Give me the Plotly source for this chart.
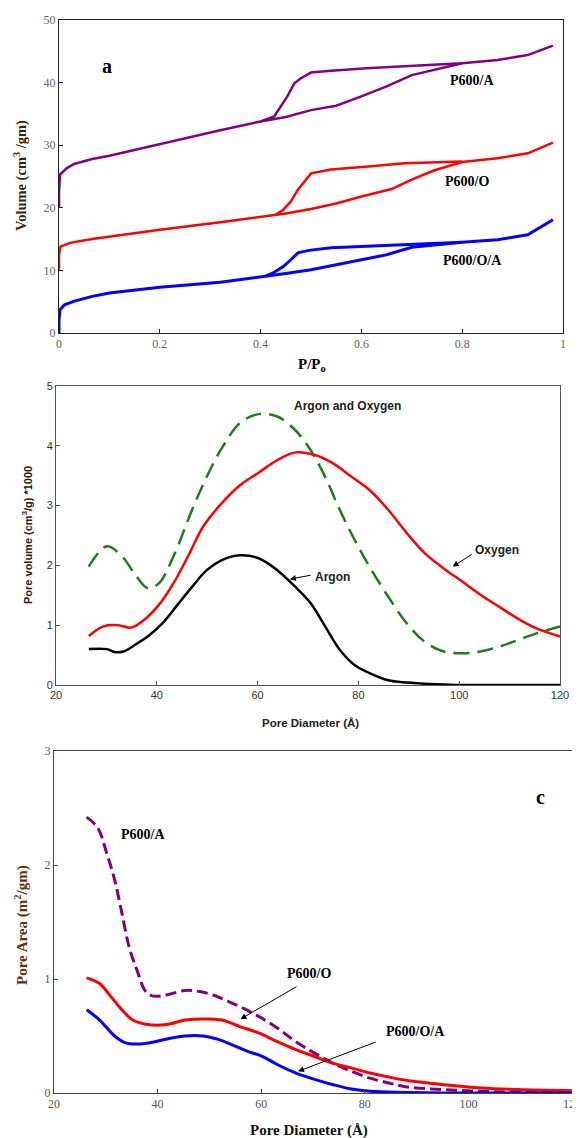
import plotly.graph_objects as go

# ---------------- Panel a: isotherms ----------------
A_ads_x = [0, 0, 0.002, 0.015, 0.03, 0.066, 0.10, 0.2, 0.32, 0.40, 0.45, 0.50, 0.55, 0.60, 0.65, 0.70, 0.76, 0.80, 0.87, 0.93, 0.98]
A_ads_y = [20, 22.5, 25.3, 26.3, 27.0, 27.8, 28.3, 30.2, 32.4, 33.8, 34.5, 35.6, 36.3, 37.8, 39.4, 41.2, 42.3, 43.1, 43.6, 44.4, 45.9]
A_des_x = [0.80, 0.69, 0.61, 0.54, 0.50, 0.48, 0.467, 0.453, 0.438, 0.427, 0.40]
A_des_y = [43.1, 42.7, 42.3, 41.9, 41.6, 40.7, 39.9, 37.8, 35.9, 34.6, 33.8]

O_ads_x = [0, 0, 0.003, 0.022, 0.066, 0.10, 0.2, 0.32, 0.40, 0.45, 0.50, 0.55, 0.60, 0.66, 0.70, 0.745, 0.80, 0.87, 0.93, 0.98]
O_ads_y = [10.1, 12.5, 13.8, 14.4, 15.0, 15.4, 16.5, 17.7, 18.6, 19.1, 19.8, 20.7, 21.8, 23.0, 24.5, 26.0, 27.3, 27.9, 28.7, 30.4]
O_des_x = [0.80, 0.686, 0.613, 0.54, 0.50, 0.49, 0.474, 0.46, 0.445, 0.43]
O_des_y = [27.4, 27.1, 26.6, 26.1, 25.5, 24.5, 22.9, 21.0, 19.7, 18.9]

OA_ads_x = [0, 0, 0.002, 0.011, 0.029, 0.066, 0.10, 0.2, 0.32, 0.40, 0.45, 0.50, 0.55, 0.60, 0.65, 0.70, 0.80, 0.87, 0.93, 0.98]
OA_ads_y = [0, 2.0, 3.7, 4.5, 5.05, 5.85, 6.4, 7.3, 8.1, 8.9, 9.5, 10.1, 10.9, 11.7, 12.5, 13.7, 14.5, 14.9, 15.7, 18.1]
OA_des_x = [0.80, 0.686, 0.613, 0.54, 0.496, 0.474, 0.46, 0.445, 0.427, 0.41]
OA_des_y = [14.5, 14.1, 13.8, 13.6, 13.2, 12.8, 11.7, 10.6, 9.7, 9.1]

# ---------------- Panel b: pore volume ----------------
b_green_x = [26.5, 30.1, 33.1, 36, 38.2, 40.4, 43.3, 47, 49.9, 52.9, 56.5, 60.2, 63.9, 67.5, 70.5, 73.4, 76.3, 79.3, 82.2, 85.9, 89.6, 93.2, 96.9, 100.6, 104.2, 107.9, 111.6, 115.2, 120]
b_green_y = [1.98, 2.32, 2.15, 1.81, 1.62, 1.70, 2.15, 2.93, 3.48, 3.96, 4.38, 4.53, 4.49, 4.26, 3.93, 3.48, 2.93, 2.42, 1.98, 1.48, 1.03, 0.72, 0.56, 0.53, 0.56, 0.64, 0.75, 0.86, 0.98]
b_red_x = [26.5, 29.4, 32.3, 34.9, 37.5, 40.4, 43.3, 46.3, 49.2, 52.9, 56.5, 60.2, 63.9, 67.5, 71.2, 74.9, 78.5, 82.2, 85.9, 89.6, 93.2, 96.9, 100.6, 104.2, 107.9, 111.6, 115.2, 120]
b_red_y = [0.82, 0.98, 1.0, 0.96, 1.09, 1.34, 1.70, 2.17, 2.65, 3.04, 3.34, 3.55, 3.76, 3.89, 3.85, 3.71, 3.49, 3.26, 2.93, 2.54, 2.20, 1.95, 1.73, 1.51, 1.31, 1.11, 0.95, 0.81]
b_black_x = [26.5, 30.1, 31.6, 33.4, 36, 38.2, 41.1, 44.1, 47, 49.9, 52.9, 56.5, 60.2, 63.9, 67.5, 70.5, 73.4, 76.3, 79.3, 82.2, 85.9, 89.6, 93.2, 96.9, 100, 110, 120]
b_black_y = [0.60, 0.60, 0.55, 0.56, 0.69, 0.81, 1.03, 1.34, 1.64, 1.92, 2.09, 2.17, 2.12, 1.92, 1.64, 1.37, 0.98, 0.59, 0.33, 0.20, 0.08, 0.04, 0.02, 0.01, 0.0, 0.0, 0.0]

# ---------------- Panel c: pore area ----------------
c_A_x = [26.3, 28.4, 30.2, 31.7, 33.1, 34.5, 36, 37.7, 39.2, 41.7, 45.3, 48.1, 51, 53.8, 56.7, 59.6, 63.1, 66.7, 70.3, 73.9, 77.4, 81, 84.6, 88.2, 95.3, 102.5, 109.6, 120]
c_A_y = [2.42, 2.33, 2.10, 1.87, 1.58, 1.28, 1.08, 0.89, 0.85, 0.86, 0.90, 0.89, 0.855, 0.80, 0.74, 0.67, 0.57, 0.45, 0.35, 0.26, 0.19, 0.13, 0.088, 0.053, 0.03, 0.015, 0.006, 0.0]
c_O_x = [26.3, 28.8, 30.9, 33.1, 35.2, 38.1, 41.7, 45.3, 48.8, 52.4, 56, 59.6, 63.1, 66.7, 70.3, 73.9, 77.4, 81, 84.6, 88.2, 95.3, 102.5, 109.6, 120]
c_O_y = [1.01, 0.96, 0.85, 0.73, 0.64, 0.60, 0.60, 0.64, 0.65, 0.64, 0.58, 0.525, 0.45, 0.38, 0.32, 0.26, 0.22, 0.175, 0.14, 0.11, 0.073, 0.044, 0.03, 0.02]
c_OA_x = [26.3, 28.8, 31.7, 33.8, 36.7, 39.5, 42.4, 45.3, 48.8, 51.7, 54.5, 57.4, 60.3, 63.1, 66.7, 70.3, 73.9, 77.4, 81, 88.2, 95, 120]
c_OA_y = [0.73, 0.64, 0.50, 0.44, 0.43, 0.45, 0.48, 0.50, 0.50, 0.47, 0.42, 0.365, 0.32, 0.25, 0.175, 0.12, 0.073, 0.035, 0.015, 0.005, 0.0, 0.0]

# The page body has an 8px default margin, so the figure is sized to fill
# the rest of the 580x1138 window and window pixels are mapped accordingly.
OFF = 8
W, H = 580 - OFF, 1138 - OFF
PURPLE = "#800080"
RED = "#ff0000"
BLUE = "#0000ff"
GREEN = "#1e7b1e"
SERIF = "Liberation Serif"
SANS = "Liberation Sans"

fig = go.Figure()

def add(x, y, color, xa, ya, width=2.5, dash="solid", shape="linear"):
    fig.add_trace(go.Scatter(x=x, y=y, mode="lines", xaxis=xa, yaxis=ya,
                             line=dict(color=color, width=width, dash=dash, shape=shape),
                             showlegend=False, hoverinfo="skip"))

# panel a
add(A_ads_x, A_ads_y, PURPLE, "x", "y")
add(A_des_x, A_des_y, PURPLE, "x", "y")
add(O_ads_x, O_ads_y, RED, "x", "y")
add(O_des_x, O_des_y, RED, "x", "y")
add(OA_ads_x, OA_ads_y, BLUE, "x", "y", width=3)
add(OA_des_x, OA_des_y, BLUE, "x", "y", width=3)

# panel b
add(b_green_x, b_green_y, GREEN, "x2", "y2", width=2.5, dash="16px,8px", shape="spline")
add(b_red_x, b_red_y, RED, "x2", "y2", width=2.5, shape="spline")
add(b_black_x, b_black_y, "#000000", "x2", "y2", width=2.5, shape="spline")

# panel c
add(c_A_x, c_A_y, PURPLE, "x3", "y3", width=3, dash="11px,5px", shape="spline")
add(c_O_x, c_O_y, RED, "x3", "y3", width=3, shape="spline")
add(c_OA_x, c_OA_y, BLUE, "x3", "y3", width=3, shape="spline")

def px(v):
    return (v - OFF) / W

def py(v):
    return 1 - (v - OFF) / H

axis_common = dict(showgrid=False, zeroline=False, showline=True, mirror=True,
                   linewidth=1, ticks="inside", ticklen=4, automargin=False,
                   ticklabeloverflow="allow")

fig.update_layout(
    template="none",
    width=W, height=H, margin=dict(l=0, r=0, t=0, b=0),
    plot_bgcolor="white", paper_bgcolor="white",
    xaxis=dict(domain=[px(59), px(563)], range=[0, 1], dtick=0.2, anchor="y",
               linecolor="#222", tickcolor="#222",
               tickfont=dict(family=SERIF, size=12, color="#666"), **axis_common),
    yaxis=dict(domain=[py(333), py(20)], range=[0, 50], dtick=10, anchor="x",
               linecolor="#222", tickcolor="#222",
               tickfont=dict(family=SERIF, size=12, color="#666"), **axis_common),
    xaxis2=dict(domain=[px(56), px(560)], range=[20, 120], dtick=20, anchor="y2",
                linecolor="#555", tickcolor="#555",
                tickfont=dict(family=SANS, size=11, color="#333"), **axis_common),
    yaxis2=dict(domain=[py(685), py(386)], range=[0, 5], dtick=1, anchor="x2",
                linecolor="#555", tickcolor="#555",
                tickfont=dict(family=SANS, size=11, color="#333"), **axis_common),
    xaxis3=dict(domain=[px(54), px(572)], range=[20, 120], dtick=20, anchor="y3",
                linecolor="#444", tickcolor="#444",
                tickfont=dict(family=SERIF, size=12, color="#555"), **axis_common),
    yaxis3=dict(domain=[py(1093), py(751)], range=[0, 3], dtick=1, anchor="x3",
                linecolor="#444", tickcolor="#444",
                tickfont=dict(family=SERIF, size=12, color="#555"), **axis_common),
)

ann = []
def text(t, x, y, size, family, color="#000", xref="paper", yref="paper", angle=0):
    ann.append(dict(text=t, x=x, y=y, xref=xref, yref=yref, showarrow=False,
                    textangle=angle, xanchor="center", yanchor="middle",
                    font=dict(family=family, size=size, color=color)))

def arrow(x, y, ax, ay, xref, yref):
    ann.append(dict(text="", x=x, y=y, ax=ax, ay=ay, xref=xref, yref=yref,
                    axref=xref, ayref=yref, showarrow=True, arrowhead=2,
                    arrowsize=1.2, arrowwidth=1, arrowcolor="#000"))

# axis titles
text("<b>P/P<sub>o</sub></b>", px(312), py(365), 15, SERIF)
text("<b>Volume (cm<sup>3</sup> /gm)</b>", px(20), py(176), 14.5, SERIF, color="#3a2410", angle=-90)
text("<b>Pore Diameter (Å)</b>", px(310), py(723), 11.5, SANS, color="#222")
text("<b>Pore volume (cm<sup>3</sup>/g) *1000</b>", px(27), py(535), 11, SANS, color="#222", angle=-90)
text("<b>Pore Diameter (Å)</b>", px(309), py(1130), 15, SERIF, color="#111")
text("<b>Pore Area (m<sup>2</sup>/gm)</b>", px(21), py(925), 15, SERIF, color="#5a3310", angle=-90)

# panel a labels
text("<b>a</b>", 0.095, 42.6, 20, SERIF, xref="x", yref="y")
text("<b>P600/A</b>", 0.82, 40.3, 14, SERIF, xref="x", yref="y")
text("<b>P600/O</b>", 0.81, 24.2, 14, SERIF, xref="x", yref="y")
text("<b>P600/O/A</b>", 0.82, 11.6, 14, SERIF, xref="x", yref="y")

# panel b labels
text("<b>Argon and Oxygen</b>", 77.8, 4.67, 12, SANS, color="#222", xref="x2", yref="y2")
text("<b>Oxygen</b>", 107.5, 2.26, 12, SANS, color="#222", xref="x2", yref="y2")
text("<b>Argon</b>", 74.9, 1.81, 12, SANS, color="#222", xref="x2", yref="y2")
arrow(98.7, 1.98, 102.8, 2.20, "x2", "y2")
arrow(66.4, 1.77, 70.8, 1.84, "x2", "y2")

# panel c labels
text("<b>c</b>", 113.9, 2.6, 20, SERIF, xref="x3", yref="y3")
text("<b>P600/A</b>", 37.2, 2.27, 14, SERIF, xref="x3", yref="y3")
text("<b>P600/O</b>", 69.2, 1.045, 14, SERIF, xref="x3", yref="y3")
text("<b>P600/O/A</b>", 89.7, 0.54, 14, SERIF, xref="x3", yref="y3")
arrow(56.0, 0.648, 67.1, 0.94, "x3", "y3")
arrow(67.1, 0.19, 82.4, 0.452, "x3", "y3")

fig.update_layout(annotations=ann)
fig.write_html("out.html")
